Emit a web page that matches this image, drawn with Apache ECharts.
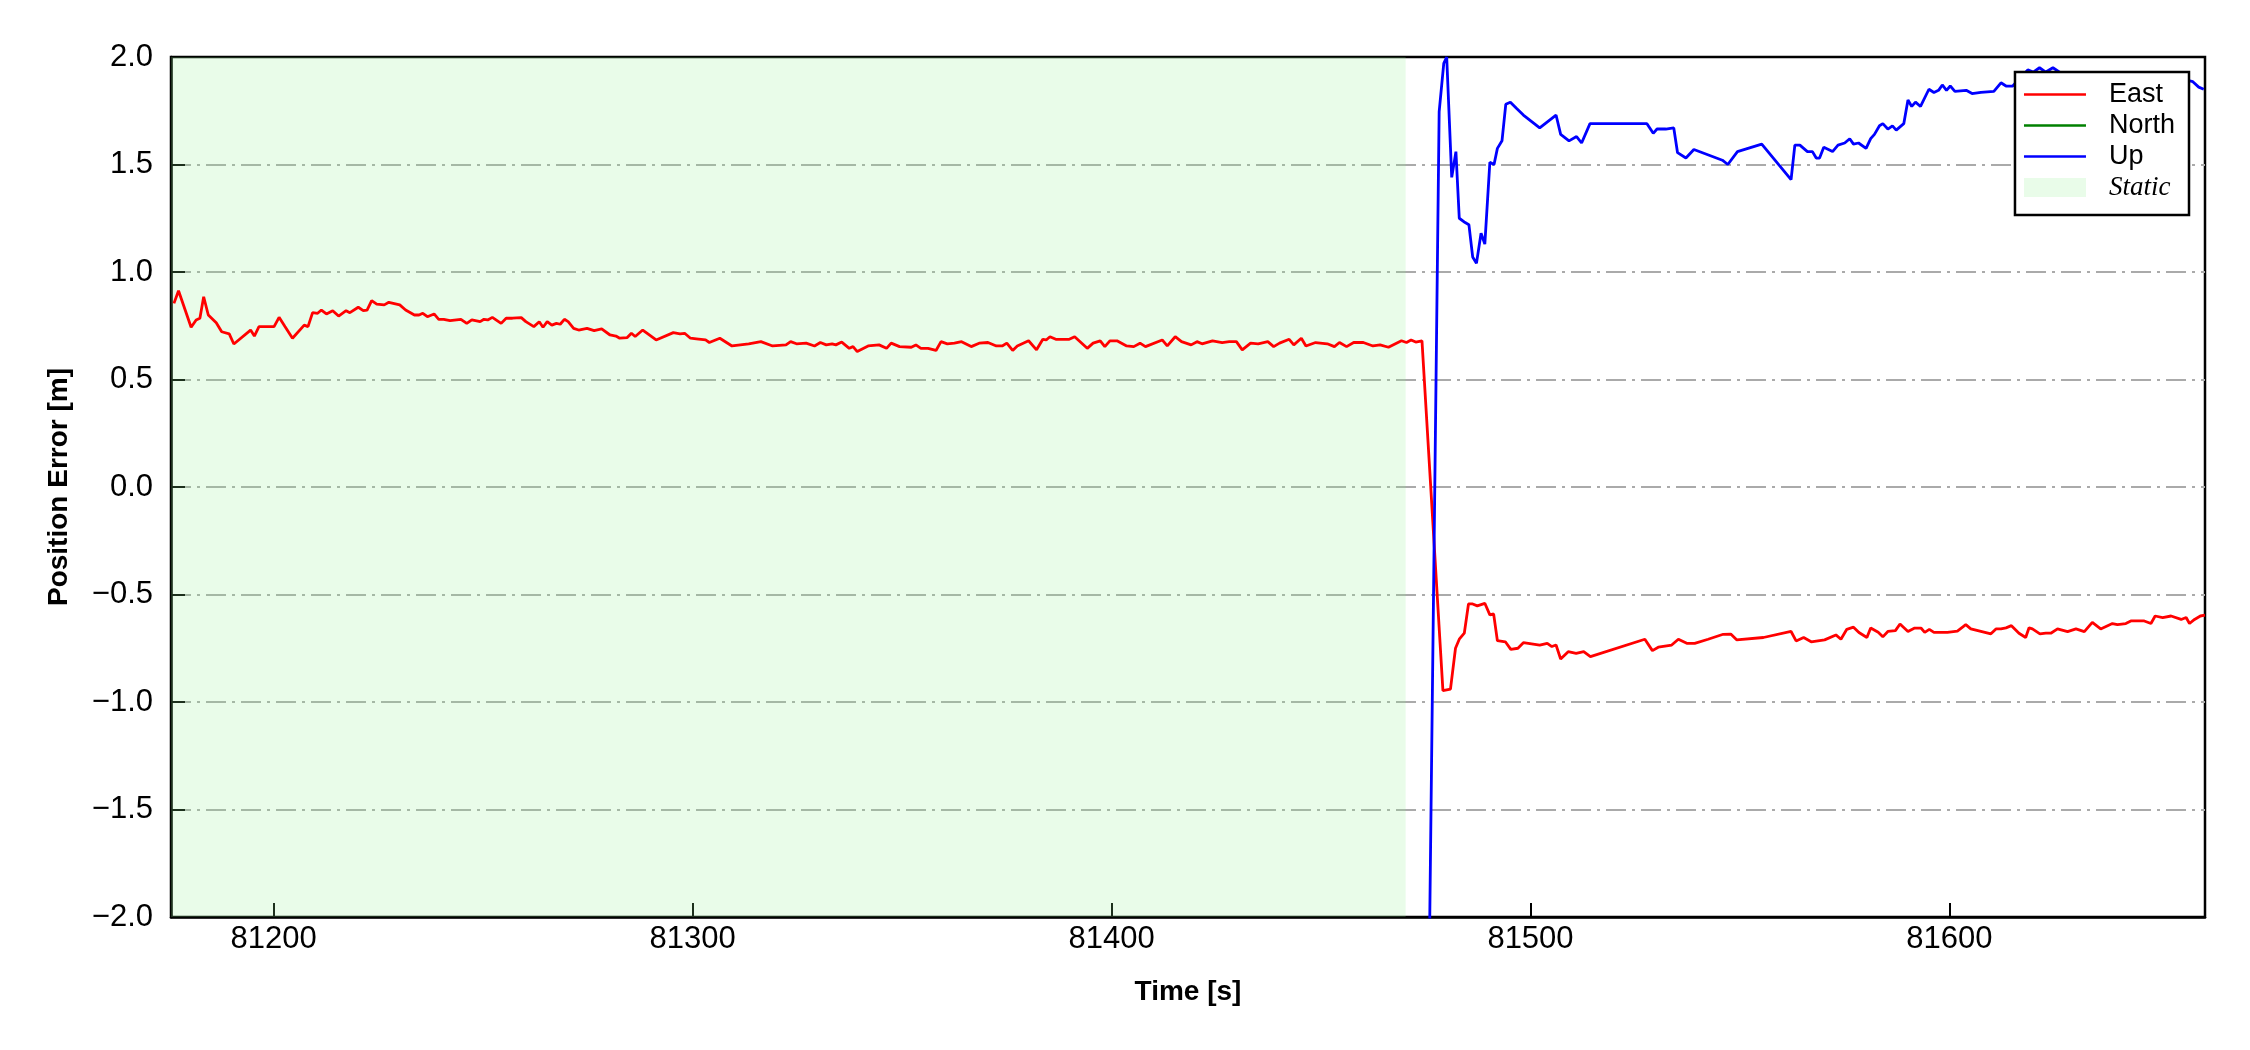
<!DOCTYPE html>
<html>
<head>
<meta charset="utf-8">
<title>Position Error</title>
<script src="https://cdn.jsdelivr.net/npm/echarts@6/dist/echarts.min.js"></script>
<style>
    html, body { margin: 0; padding: 0; background: #fff; }
    #chart { width: 2250px; height: 1050px; }
</style>
</head>
<body>
<div id="chart"></div>
<script>
// time [s] and error [m]
var eastTime = [
    81176.2, 81177.3, 81180.3, 81181.5, 81182.4, 81183.3, 81184.4, 81186.3, 81187.6, 81189.4,
    81190.5, 81194.5, 81195.4, 81196.5, 81200.1, 81201.3, 81202.7, 81204.5, 81207.3, 81208.2,
    81209.3, 81210.5, 81211.4, 81212.6, 81214.1, 81215.5, 81217.3, 81218.2, 81220.2, 81221.4,
    81222.3, 81223.4, 81224.6, 81226.4, 81227.5, 81230.1, 81231.5, 81233.6, 81234.7, 81235.6,
    81236.7, 81238.3, 81239.4, 81240.6, 81242.1, 81244.7, 81246.1, 81247.3, 81249.3, 81250.2,
    81251.1, 81252.2, 81254.3, 81255.5, 81257.0, 81259.1, 81260.2, 81262.1, 81263.4, 81264.3,
    81265.3, 81266.4, 81267.5, 81268.4, 81269.4, 81270.3, 81271.6, 81272.8, 81274.8, 81276.5,
    81278.3, 81280.3, 81281.7, 81282.6, 81284.4, 81285.4, 81286.3, 81288.1, 81291.3, 81295.4,
    81297.0, 81298.1, 81299.5, 81300.9, 81303.1, 81304.0, 81306.5, 81309.4, 81313.4, 81316.3,
    81319.1, 81322.3, 81323.4, 81324.8, 81327.1, 81329.1, 81330.5, 81331.9, 81333.3, 81334.2,
    81335.6, 81337.4, 81338.3, 81339.3, 81341.9, 81344.5, 81346.3, 81347.4, 81349.4, 81352.2,
    81353.3, 81354.5, 81356.2, 81358.1, 81359.3, 81360.8, 81362.5, 81364.2, 81366.5, 81368.4,
    81370.5, 81372.5, 81373.9, 81375.0, 81376.4, 81377.5, 81380.2, 81382.1, 81383.6, 81384.4,
    81385.3, 81386.7, 81389.9, 81391.2, 81394.2, 81395.6, 81397.3, 81398.4, 81399.6, 81401.3,
    81403.6, 81405.3, 81406.8, 81408.1, 81412.1, 81413.3, 81415.2, 81416.7, 81419.0, 81420.4,
    81421.6, 81424.1, 81426.4, 81428.1, 81429.8, 81431.2, 81433.2, 81435.0, 81437.3, 81438.7,
    81440.1, 81442.4, 81443.5, 81445.3, 81446.4, 81448.7, 81451.5, 81453.2, 81454.4, 81456.1,
    81457.8, 81460.1, 81462.4, 81464.1, 81466.1, 81469.2, 81470.4, 81471.5, 81472.6, 81474.1,
    81479.1, 81480.9, 81482.1, 81483.0, 81484.2, 81485.2, 81486.2, 81487.3, 81489.1, 81490.3,
    81491.2, 81492.1, 81494.0, 81495.3, 81497.0, 81498.3, 81502.2, 81504.0, 81505.1, 81506.1,
    81507.2, 81509.0, 81510.9, 81512.7, 81514.3, 81527.3, 81529.1, 81530.5, 81533.7, 81535.3,
    81537.3, 81539.2, 81542.4, 81546.0, 81547.8, 81549.2, 81555.6, 81562.2, 81563.4, 81565.2,
    81567.0, 81570.2, 81572.9, 81574.1, 81575.5, 81577.1, 81578.4, 81580.3, 81581.2, 81583.0,
    81584.1, 81585.3, 81587.1, 81588.2, 81590.1, 81591.7, 81593.2, 81594.1, 81595.2, 81596.3,
    81599.5, 81601.9, 81603.9, 81605.1, 81609.9, 81611.1, 81612.3, 81613.5, 81614.8, 81616.6,
    81618.2, 81619.0, 81619.8, 81621.6, 81623.0, 81624.2, 81625.8, 81628.2, 81630.2, 81632.2,
    81634.1, 81636.1, 81638.9, 81640.1, 81642.1, 81643.3, 81646.5, 81648.1, 81649.1, 81650.9,
    81652.9, 81655.3, 81656.5, 81657.3, 81658.5, 81659.9, 81661.0
];
var eastErr = [
    0.854, 0.913, 0.743, 0.777, 0.785, 0.885, 0.800, 0.764, 0.722, 0.712,
    0.665, 0.730, 0.702, 0.746, 0.746, 0.789, 0.746, 0.692, 0.753, 0.746,
    0.811, 0.808, 0.823, 0.805, 0.820, 0.795, 0.820, 0.811, 0.836, 0.820,
    0.823, 0.867, 0.851, 0.847, 0.859, 0.847, 0.823, 0.800, 0.800, 0.808,
    0.792, 0.805, 0.780, 0.780, 0.774, 0.780, 0.761, 0.777, 0.769, 0.780,
    0.777, 0.789, 0.761, 0.785, 0.785, 0.788, 0.769, 0.746, 0.769, 0.743,
    0.769, 0.753, 0.761, 0.757, 0.780, 0.769, 0.738, 0.730, 0.738, 0.727,
    0.735, 0.707, 0.702, 0.692, 0.695, 0.715, 0.700, 0.730, 0.684, 0.718,
    0.712, 0.715, 0.692, 0.689, 0.684, 0.672, 0.692, 0.656, 0.666, 0.676,
    0.656, 0.661, 0.676, 0.666, 0.669, 0.656, 0.672, 0.661, 0.666, 0.661,
    0.674, 0.645, 0.653, 0.630, 0.656, 0.661, 0.645, 0.669, 0.653, 0.650,
    0.661, 0.645, 0.645, 0.635, 0.676, 0.666, 0.669, 0.676, 0.653, 0.669,
    0.672, 0.656, 0.656, 0.669, 0.635, 0.656, 0.680, 0.638, 0.687, 0.684,
    0.699, 0.687, 0.687, 0.699, 0.645, 0.669, 0.680, 0.653, 0.680, 0.680,
    0.656, 0.653, 0.669, 0.653, 0.684, 0.656, 0.699, 0.676, 0.661, 0.676,
    0.666, 0.680, 0.672, 0.676, 0.676, 0.638, 0.669, 0.666, 0.676, 0.653,
    0.669, 0.687, 0.661, 0.692, 0.656, 0.672, 0.666, 0.653, 0.672, 0.653,
    0.672, 0.672, 0.656, 0.661, 0.650, 0.680, 0.672, 0.684, 0.674, 0.680,
    -0.947, -0.940, -0.750, -0.708, -0.680, -0.544, -0.544, -0.553, -0.541, -0.595,
    -0.590, -0.715, -0.720, -0.755, -0.750, -0.724, -0.735, -0.727, -0.742, -0.735,
    -0.800, -0.766, -0.774, -0.766, -0.789, -0.708, -0.761, -0.745, -0.735, -0.708,
    -0.727, -0.727, -0.708, -0.685, -0.684, -0.711, -0.700, -0.672, -0.716, -0.700,
    -0.720, -0.711, -0.688, -0.708, -0.662, -0.652, -0.677, -0.700, -0.656, -0.676,
    -0.697, -0.672, -0.668, -0.637, -0.672, -0.656, -0.656, -0.676, -0.662, -0.676,
    -0.676, -0.670, -0.640, -0.660, -0.683, -0.660, -0.660, -0.655, -0.645, -0.680,
    -0.700, -0.655, -0.660, -0.683, -0.680, -0.680, -0.660, -0.673, -0.660, -0.673,
    -0.630, -0.660, -0.635, -0.640, -0.635, -0.623, -0.623, -0.635, -0.600, -0.607,
    -0.600, -0.616, -0.607, -0.635, -0.616, -0.600, -0.596
];

// North never enters the plotted range
var northTime = [];
var northErr = [];

var upTime = [
    81475.0, 81478.2, 81479.3, 81480.0, 81481.2, 81482.2, 81483.0, 81484.4, 81485.3, 81486.2,
    81487.1, 81488.2, 81489.1, 81490.3, 81491.3, 81492.1, 81493.2, 81494.1, 81495.2, 81496.7,
    81498.3, 81502.2, 81506.1, 81507.2, 81509.2, 81511.0, 81512.2, 81514.2, 81527.8, 81529.3,
    81530.2, 81532.3, 81534.2, 81535.1, 81537.1, 81539.0, 81545.8, 81547.1, 81549.4, 81555.2,
    81562.2, 81563.1, 81564.3, 81566.1, 81567.3, 81568.2, 81569.0, 81570.0, 81572.1, 81573.4,
    81575.0, 81576.2, 81577.1, 81578.3, 81580.1, 81581.2, 81582.1, 81583.3, 81584.1, 81585.3,
    81586.4, 81587.3, 81589.1, 81590.1, 81591.0, 81591.9, 81593.1, 81595.1, 81596.3, 81597.4,
    81598.3, 81599.3, 81600.2, 81601.3, 81604.0, 81605.4, 81607.5, 81610.6, 81612.3, 81613.5,
    81615.1, 81618.7, 81620.0, 81621.5, 81623.0, 81624.7, 81627.0, 81640.0, 81655.0, 81658.1,
    81659.5, 81660.7
];
var upErr = [
    -3.6, 1.746, 1.97, 2.0, 1.44, 1.56, 1.25, 1.23, 1.22, 1.07,
    1.04, 1.18, 1.13, 1.51, 1.50, 1.575, 1.61, 1.78, 1.79, 1.76,
    1.73, 1.67, 1.73, 1.64, 1.61, 1.63, 1.60, 1.69, 1.69, 1.645,
    1.665, 1.665, 1.67, 1.555, 1.53, 1.57, 1.52, 1.50, 1.56, 1.595,
    1.43, 1.59, 1.59, 1.56, 1.56, 1.53, 1.53, 1.58, 1.56, 1.59,
    1.60, 1.62, 1.595, 1.60, 1.575, 1.62, 1.64, 1.68, 1.69, 1.665,
    1.68, 1.66, 1.69, 1.80, 1.77, 1.79, 1.77, 1.85, 1.835, 1.845,
    1.87, 1.845, 1.865, 1.84, 1.845, 1.83, 1.835, 1.84, 1.88, 1.865,
    1.865, 1.94, 1.93, 1.95, 1.93, 1.95, 1.92, 1.90, 1.90, 1.885,
    1.86, 1.85
];

var staticSpan = [81175.5, 81470.2];
var xTicks = [81200, 81300, 81400, 81500, 81600];
var xRange = [81175.5, 81661];
var yRange = [-2, 2];

function zip(t, v) {
    var out = [];
    for (var i = 0; i < t.length; i++) {
        out.push([t[i], v[i]]);
    }
    return out;
}

var font = "'Liberation Sans', Arial, sans-serif";
var lineIcon = "path://M0,0 L62,0 L62,2.6 L0,2.6 Z";

var chart = echarts.init(document.getElementById("chart"), null, { renderer: "canvas" });
chart.setOption({
    animation: false,
    backgroundColor: "#fff",
    grid: {
        left: 171,
        right: 45,
        top: 57,
        bottom: 133,
        show: true,
        borderColor: "#000",
        borderWidth: 2.5,
        backgroundColor: "transparent",
    },
    legend: {
        orient: "vertical",
        right: 61,
        top: 72,
        backgroundColor: "#fff",
        borderColor: "#000",
        borderWidth: 2.5,
        borderRadius: 0,
        padding: [7, 14, 12, 9],
        itemWidth: 62,
        itemHeight: 19,
        itemGap: 0,
        data: [
            { name: "East", icon: lineIcon },
            { name: "North", icon: lineIcon },
            { name: "Up", icon: lineIcon },
            { name: "Static", icon: "rect", itemStyle: { color: "#e9fce9" } },
        ],
        formatter: function (name) {
            return name === "Static" ? "{s|Static}" : name;
        },
        textStyle: {
            fontFamily: font,
            fontSize: 27,
            lineHeight: 31,
            color: "#000",
            padding: [0, 0, 0, 18],
            rich: {
                s: {
                    fontFamily: "'Liberation Serif', 'Times New Roman', serif",
                    fontStyle: "italic",
                    fontSize: 27,
                    lineHeight: 31,
                    color: "#000",
                },
            },
        },
    },
    xAxis: {
        type: "value",
        min: xRange[0],
        max: xRange[1],
        name: "Time [s]",
        nameLocation: "middle",
        nameGap: 61,
        nameTextStyle: {
            fontFamily: font,
            fontSize: 28,
            fontWeight: "bold",
            color: "#000",
        },
        axisLine: {
            show: true,
            onZero: false,
            lineStyle: { color: "#000", width: 2.5 },
        },
        axisTick: {
            show: true,
            inside: true,
            length: 14,
            lineStyle: { color: "#000", width: 2 },
            customValues: xTicks,
        },
        axisLabel: {
            customValues: xTicks,
            fontFamily: font,
            fontSize: 31,
            color: "#000",
            margin: 7,
            formatter: function (v) {
                return String(v);
            },
        },
        splitLine: { show: false },
    },
    yAxis: {
        type: "value",
        min: yRange[0],
        max: yRange[1],
        interval: 0.5,
        name: "Position Error [m]",
        nameLocation: "middle",
        nameRotate: 90,
        nameGap: 98,
        nameTextStyle: {
            fontFamily: font,
            fontSize: 28,
            fontWeight: "bold",
            color: "#000",
        },
        axisLine: {
            show: true,
            onZero: false,
            lineStyle: { color: "#000", width: 2.5 },
        },
        axisTick: {
            show: true,
            inside: true,
            length: 14,
            lineStyle: { color: "#000", width: 2 },
        },
        axisLabel: {
            fontFamily: font,
            fontSize: 31,
            color: "#000",
            margin: 18,
            formatter: function (v) {
                return (v < 0 ? "\u2212" : "") + Math.abs(v).toFixed(1);
            },
        },
        splitLine: {
            show: true,
            showMinLine: false,
            showMaxLine: false,
            lineStyle: { color: "#aaaaaa", width: 2, type: [20, 6, 3, 6] },
        },
    },
    series: [
        {
            name: "Static",
            type: "line",
            data: [[staticSpan[0], yRange[1]], [staticSpan[1], yRange[1]]],
            symbol: "none",
            silent: true,
            z: 1,
            itemStyle: { color: "#e9fce9" },
            lineStyle: { width: 0, opacity: 0 },
            areaStyle: { color: "rgba(144,238,144,0.2)", origin: "start", opacity: 1 },
        },
        {
            name: "East",
            type: "line",
            data: zip(eastTime, eastErr),
            symbol: "none",
            itemStyle: { color: "#ff0000" },
            lineStyle: { color: "#ff0000", width: 2.8 },
        },
        {
            name: "North",
            type: "line",
            data: zip(northTime, northErr),
            symbol: "none",
            itemStyle: { color: "#008000" },
            lineStyle: { color: "#008000", width: 2.8 },
        },
        {
            name: "Up",
            type: "line",
            data: zip(upTime, upErr),
            symbol: "none",
            itemStyle: { color: "#0000ff" },
            lineStyle: { color: "#0000ff", width: 2.8 },
        },
    ],
});
</script>
</body>
</html>
